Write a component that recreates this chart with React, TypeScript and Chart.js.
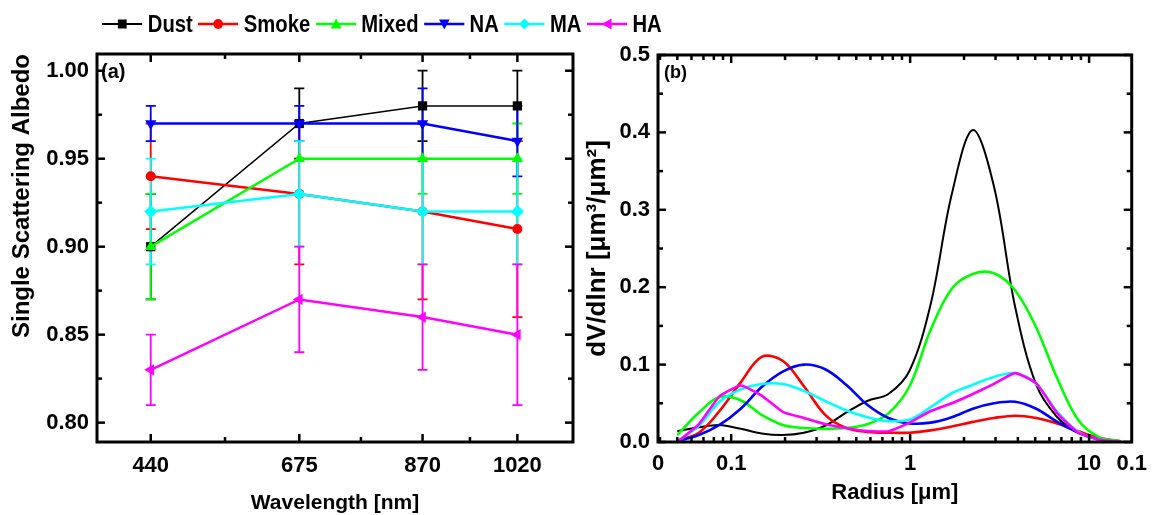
import React, { useEffect, useRef } from 'react';
import { Chart, registerables } from 'chart.js';

Chart.register(...registerables);

// ---------- Panel (a): Single Scattering Albedo ----------
const wavelengths = [440, 675, 870, 1020];
const wavelengthMinorTicks = [557.5, 772.5, 945];
const ssaTickLabels = [0.8, 0.85, 0.9, 0.95, 1.0];
const ssaMinorTicks = [0.825, 0.875, 0.925, 0.975];

const dustSSA = [0.9, 0.97, 0.98, 0.98];
const dustErr = [0.03, 0.02, 0.02, 0.02];
const smokeSSA = [0.94, 0.93, 0.92, 0.91];
const smokeErr = [0.03, 0.04, 0.05, 0.05];
const mixedSSA = [0.9, 0.95, 0.95, 0.95];
const mixedErr = [0.03, 0.0, 0.02, 0.02];
const naSSA = [0.97, 0.97, 0.97, 0.96];
const naErr = [0.01, 0.01, 0.02, 0.02];
const maSSA = [0.92, 0.93, 0.92, 0.92];
const maErr = [0.03, 0.03, 0.03, 0.03];
const haSSA = [0.83, 0.87, 0.86, 0.85];
const haErr = [0.02, 0.03, 0.03, 0.04];

// ---------- Panel (b): Volume size distribution ----------
const radius = [0.05, 0.066, 0.086, 0.113, 0.148, 0.194, 0.255, 0.335, 0.439, 0.576, 0.756, 0.992, 1.302, 1.708, 2.241, 2.94, 3.857, 5.061, 6.641, 8.713, 11.432, 15.0];
const dustDV = [0.014, 0.019, 0.022, 0.017, 0.011, 0.009, 0.012, 0.021, 0.038, 0.053, 0.062, 0.092, 0.178, 0.32, 0.403, 0.33, 0.175, 0.074, 0.032, 0.012, 0.003, 0.0];
const smokeDV = [0.002, 0.012, 0.04, 0.077, 0.11, 0.105, 0.072, 0.035, 0.018, 0.013, 0.012, 0.012, 0.015, 0.02, 0.026, 0.031, 0.034, 0.031, 0.024, 0.014, 0.005, 0.001];
const mixedDV = [0.009, 0.038, 0.058, 0.054, 0.035, 0.022, 0.018, 0.017, 0.018, 0.023, 0.037, 0.072, 0.145, 0.198, 0.217, 0.218, 0.196, 0.148, 0.082, 0.028, 0.006, 0.001];
const naDV = [0.001, 0.009, 0.022, 0.043, 0.071, 0.091, 0.1, 0.094, 0.074, 0.048, 0.031, 0.024, 0.025, 0.032, 0.043, 0.05, 0.052, 0.043, 0.026, 0.012, 0.003, 0.0];
const maDV = [0.001, 0.021, 0.052, 0.068, 0.075, 0.075, 0.066, 0.053, 0.041, 0.032, 0.027, 0.029, 0.045, 0.063, 0.074, 0.084, 0.089, 0.075, 0.039, 0.013, 0.003, 0.0];
const haDV = [0.0, 0.023, 0.059, 0.073, 0.06, 0.039, 0.031, 0.023, 0.018, 0.014, 0.014, 0.025, 0.04, 0.05, 0.062, 0.075, 0.089, 0.076, 0.037, 0.012, 0.003, 0.0];

const radiusMajorTicks = [0.1, 1, 10];
const radiusMinorTicks = [0.04, 0.05, 0.06, 0.07, 0.08, 0.09, 0.2, 0.3, 0.4, 0.5, 0.6, 0.7, 0.8, 0.9, 2, 3, 4, 5, 6, 7, 8, 9];
const radiusMin = 0.039;
const radiusMax = 17.3;
const radiusEdgeLabels = ['0', '0.1'];
const dvTickLabels = [0, 0.1, 0.2, 0.3, 0.4, 0.5];
const dvMinorTicks = [0.05, 0.15, 0.25, 0.35, 0.45];

// ---------- Series styling ----------
const seriesNames = ['Dust', 'Smoke', 'Mixed', 'NA', 'MA', 'HA'];
const seriesColors = ['#000000', '#ff0000', '#00ff00', '#0000ff', '#00ffff', '#ff00ff'];
const seriesPointStyles = ['rect', 'circle', 'triangle', 'triangle', 'rectRot', 'triangle'];
const seriesRotations = [0, 0, 0, 180, 0, 270];
const ssaSeries = [dustSSA, smokeSSA, mixedSSA, naSSA, maSSA, haSSA];
const ssaErrors = [dustErr, smokeErr, mixedErr, naErr, maErr, haErr];
const dvSeries = [dustDV, smokeDV, mixedDV, naDV, maDV, haDV];

const FONT = "'Liberation Sans', Arial, sans-serif";

const near = (arr: number[], v: number) => arr.some((a) => Math.abs(a - v) < 1e-9);

const framePlugin = {
  id: 'frameTicks',
  afterDatasetsDraw(chart: any, _args: any, opts: any) {
    const { ctx, chartArea: a, scales } = chart;
    const xs = scales.x;
    const ys = scales.y;
    ctx.save();
    ctx.strokeStyle = '#000';
    ctx.lineCap = 'butt';
    ctx.lineWidth = 2.5;
    const seg = (x1: number, y1: number, x2: number, y2: number) => {
      ctx.beginPath();
      ctx.moveTo(x1, y1);
      ctx.lineTo(x2, y2);
      ctx.stroke();
    };
    const drawX = (vals: number[], len: number) =>
      (vals || []).forEach((v) => {
        const p = xs.getPixelForValue(v);
        seg(p, a.bottom, p, a.bottom - len);
        seg(p, a.top, p, a.top + len);
      });
    const drawY = (vals: number[], len: number) =>
      (vals || []).forEach((v) => {
        const p = ys.getPixelForValue(v);
        seg(a.left, p, a.left + len, p);
        seg(a.right, p, a.right - len, p);
      });
    drawX(opts.xMajor, 8);
    drawX(opts.xMinor, 5);
    drawY(opts.yMajor, 8);
    drawY(opts.yMinor, 5);
    ctx.lineWidth = 3;
    ctx.strokeRect(a.left, a.top, a.right - a.left, a.bottom - a.top);
    ctx.restore();
  },
};

const errorBarPlugin = {
  id: 'errorBars',
  beforeDatasetsDraw(chart: any) {
    const { ctx, scales } = chart;
    const xs = scales.x;
    const ys = scales.y;
    ctx.save();
    chart.data.datasets.forEach((ds: any) => {
      const errs: number[] | undefined = ds.errorBars;
      if (!errs) return;
      ctx.strokeStyle = ds.borderColor;
      ctx.lineWidth = 1.8;
      ds.data.forEach((pt: any, j: number) => {
        const e = errs[j];
        if (!e) return;
        const x = xs.getPixelForValue(pt.x);
        const yt = ys.getPixelForValue(pt.y + e);
        const yb = ys.getPixelForValue(pt.y - e);
        ctx.beginPath();
        ctx.moveTo(x, yt);
        ctx.lineTo(x, yb);
        ctx.moveTo(x - 5, yt);
        ctx.lineTo(x + 5, yt);
        ctx.moveTo(x - 5, yb);
        ctx.lineTo(x + 5, yb);
        ctx.stroke();
      });
    });
    ctx.restore();
  },
};

function LegendMarker({ idx }: { idx: number }) {
  const c = seriesColors[idx];
  const cx = 23;
  const cy = 9;
  let shape: any = null;
  switch (idx) {
    case 0:
      shape = <rect x={cx - 5} y={cy - 4.5} width={10} height={9} fill={c} />;
      break;
    case 1:
      shape = <ellipse cx={cx} cy={cy} rx={5.5} ry={5} fill={c} />;
      break;
    case 2:
      shape = <polygon points={`${cx},${cy - 5.5} ${cx + 6},${cy + 4.5} ${cx - 6},${cy + 4.5}`} fill={c} />;
      break;
    case 3:
      shape = <polygon points={`${cx},${cy + 5.5} ${cx + 6},${cy - 4.5} ${cx - 6},${cy - 4.5}`} fill={c} />;
      break;
    case 4:
      shape = <polygon points={`${cx},${cy - 5.5} ${cx + 6},${cy} ${cx},${cy + 5.5} ${cx - 6},${cy}`} fill={c} />;
      break;
    default:
      shape = <polygon points={`${cx - 6},${cy} ${cx + 5},${cy - 5.5} ${cx + 5},${cy + 5.5}`} fill={c} />;
  }
  return (
    <svg width={46} height={18} style={{ display: 'block' }}>
      <line x1={0} y1={cy} x2={46} y2={cy} stroke={c} strokeWidth={idx === 0 ? 2 : 2.5} />
      {shape}
    </svg>
  );
}

export default function App() {
  const leftRef = useRef<HTMLCanvasElement>(null);
  const rightRef = useRef<HTMLCanvasElement>(null);

  useEffect(() => {
    const leftChart = new Chart(leftRef.current as HTMLCanvasElement, {
      type: 'line',
      data: {
        datasets: seriesNames.map((name, i) => ({
          label: name,
          data: wavelengths.map((w, j) => ({ x: w, y: ssaSeries[i][j] })),
          errorBars: ssaErrors[i],
          borderColor: seriesColors[i],
          backgroundColor: seriesColors[i],
          borderWidth: i === 0 ? 1.5 : 2.5,
          pointStyle: seriesPointStyles[i],
          rotation: seriesRotations[i],
          pointRadius: i === 1 ? 5 : 6.5,
          pointBorderWidth: 0,
          tension: 0,
          order: 5 - i,
          clip: false,
        })) as any,
      },
      options: {
        animation: false,
        responsive: true,
        maintainAspectRatio: false,
        layout: { padding: { left: 0, top: 54, right: 27, bottom: 0 } },
        plugins: {
          legend: { display: false },
          tooltip: { enabled: false },
          frameTicks: {
            xMajor: wavelengths,
            xMinor: wavelengthMinorTicks,
            yMajor: ssaTickLabels,
            yMinor: ssaMinorTicks,
          },
        } as any,
        scales: {
          x: {
            type: 'linear',
            min: 355,
            max: 1108,
            grid: { display: false, drawTicks: false },
            border: { display: false },
            afterBuildTicks: (s: any) => {
              s.ticks = [...wavelengths, ...wavelengthMinorTicks].sort((a, b) => a - b).map((v) => ({ value: v }));
            },
            afterFit: (s: any) => {
              s.height = 73;
            },
            ticks: {
              autoSkip: false,
              maxRotation: 0,
              minRotation: 0,
              padding: 11,
              color: '#000',
              font: { family: FONT, size: 22, weight: 'bold' },
              callback: (v: any) => (near(wavelengths, Number(v)) ? String(v) : ''),
            },
            title: {
              display: true,
              text: 'Wavelength [nm]',
              color: '#000',
              font: { family: FONT, size: 21, weight: 'bold', lineHeight: 1 },
              padding: { top: 0, bottom: 1 },
            },
          },
          y: {
            type: 'linear',
            min: 0.789,
            max: 1.0095,
            grid: { display: false, drawTicks: false },
            border: { display: false },
            afterBuildTicks: (s: any) => {
              s.ticks = [...ssaTickLabels, ...ssaMinorTicks].sort((a, b) => a - b).map((v) => ({ value: v }));
            },
            afterFit: (s: any) => {
              s.width = 97;
            },
            ticks: {
              autoSkip: false,
              padding: 8,
              color: '#000',
              font: { family: FONT, size: 22, weight: 'bold' },
              callback: (v: any) => (near(ssaTickLabels, Number(v)) ? Number(v).toFixed(2) : ''),
            },
            title: {
              display: true,
              text: 'Single Scattering Albedo',
              align: 'end',
              color: '#000',
              font: { family: FONT, size: 24, weight: 'bold', lineHeight: 1.2 },
              padding: { top: 8, bottom: 0 },
            },
          },
        },
      },
      plugins: [errorBarPlugin, framePlugin],
    } as any);

    const rightChart = new Chart(rightRef.current as HTMLCanvasElement, {
      type: 'line',
      data: {
        datasets: seriesNames.map((name, i) => ({
          label: name,
          data: radius.map((r, j) => ({ x: r, y: dvSeries[i][j] })),
          borderColor: seriesColors[i],
          backgroundColor: seriesColors[i],
          borderWidth: i === 0 ? 2 : 2.6,
          pointRadius: 0,
          cubicInterpolationMode: 'default',
          tension: i === 5 ? 0.15 : 0.35,
          order: 5 - i,
        })) as any,
      },
      options: {
        animation: false,
        responsive: true,
        maintainAspectRatio: false,
        layout: { padding: { left: 0, top: 55, right: 22, bottom: 0 } },
        plugins: {
          legend: { display: false },
          tooltip: { enabled: false },
          frameTicks: {
            xMajor: radiusMajorTicks,
            xMinor: radiusMinorTicks,
            yMajor: dvTickLabels,
            yMinor: dvMinorTicks,
          },
        } as any,
        scales: {
          x: {
            type: 'logarithmic',
            min: radiusMin,
            max: radiusMax,
            grid: { display: false, drawTicks: false },
            border: { display: false },
            afterBuildTicks: (s: any) => {
              s.ticks = [radiusMin, ...radiusMinorTicks, ...radiusMajorTicks, radiusMax]
                .sort((a, b) => a - b)
                .map((v) => ({ value: v }));
            },
            afterFit: (s: any) => {
              s.height = 73;
            },
            ticks: {
              autoSkip: false,
              maxRotation: 0,
              minRotation: 0,
              padding: 9,
              color: '#000',
              font: { family: FONT, size: 22, weight: 'bold' },
              callback: (v: any) => {
                const n = Number(v);
                if (Math.abs(n - radiusMin) < 1e-9) return radiusEdgeLabels[0];
                if (Math.abs(n - radiusMax) < 1e-9) return radiusEdgeLabels[1];
                return near(radiusMajorTicks, n) ? String(n) : '';
              },
            },
            title: {
              display: true,
              text: 'Radius [\u03bcm]',
              color: '#000',
              font: { family: FONT, size: 22, weight: 'bold', lineHeight: 1 },
              padding: { top: 0, bottom: 11 },
            },
          },
          y: {
            type: 'linear',
            min: 0,
            max: 0.5,
            grid: { display: false, drawTicks: false },
            border: { display: false },
            afterBuildTicks: (s: any) => {
              s.ticks = [...dvTickLabels, ...dvMinorTicks].sort((a, b) => a - b).map((v) => ({ value: v }));
            },
            afterFit: (s: any) => {
              s.width = 78;
            },
            ticks: {
              autoSkip: false,
              padding: 8,
              color: '#000',
              font: { family: FONT, size: 22, weight: 'bold' },
              callback: (v: any) => (near(dvTickLabels, Number(v)) ? Number(v).toFixed(1) : ''),
            },
            title: {
              display: true,
              text: 'dV/dlnr [\u03bcm\u00b3/\u03bcm\u00b2]',
              color: '#000',
              font: { family: FONT, size: 26, weight: 'bold', lineHeight: 1.2 },
              padding: { top: 2, bottom: 0 },
            },
          },
        },
      },
      plugins: [framePlugin],
    } as any);

    return () => {
      leftChart.destroy();
      rightChart.destroy();
    };
  }, []);

  return (
    <div style={{ position: 'absolute', left: 0, top: 0, width: 1156, height: 515, background: '#fff', overflow: 'hidden' }}>
      <div style={{ position: 'absolute', left: 0, top: 0, width: 600, height: 515 }}>
        <canvas ref={leftRef} />
      </div>
      <div style={{ position: 'absolute', left: 580, top: 0, width: 576, height: 515 }}>
        <canvas ref={rightRef} />
      </div>
      <div
        style={{
          position: 'absolute',
          left: 102,
          top: 9,
          height: 30,
          display: 'flex',
          alignItems: 'center',
          fontFamily: FONT,
          fontWeight: 'bold',
          fontSize: 23,
          lineHeight: '30px',
          color: '#000',
          whiteSpace: 'nowrap',
          transform: 'scaleX(0.88)',
          transformOrigin: '0 50%',
        }}
      >
        {seriesNames.map((n, i) => (
          <React.Fragment key={n}>
            <LegendMarker idx={i} />
            <span style={{ margin: '0 6px' }}>{n}</span>
          </React.Fragment>
        ))}
      </div>
      <div style={{ position: 'absolute', left: 101, top: 60, fontFamily: FONT, fontWeight: 'bold', fontSize: 20, lineHeight: '22px', color: '#000' }}>
        (a)
      </div>
      <div style={{ position: 'absolute', left: 664, top: 62, fontFamily: FONT, fontWeight: 'bold', fontSize: 18, lineHeight: '20px', color: '#000' }}>
        (b)
      </div>
    </div>
  );
}
